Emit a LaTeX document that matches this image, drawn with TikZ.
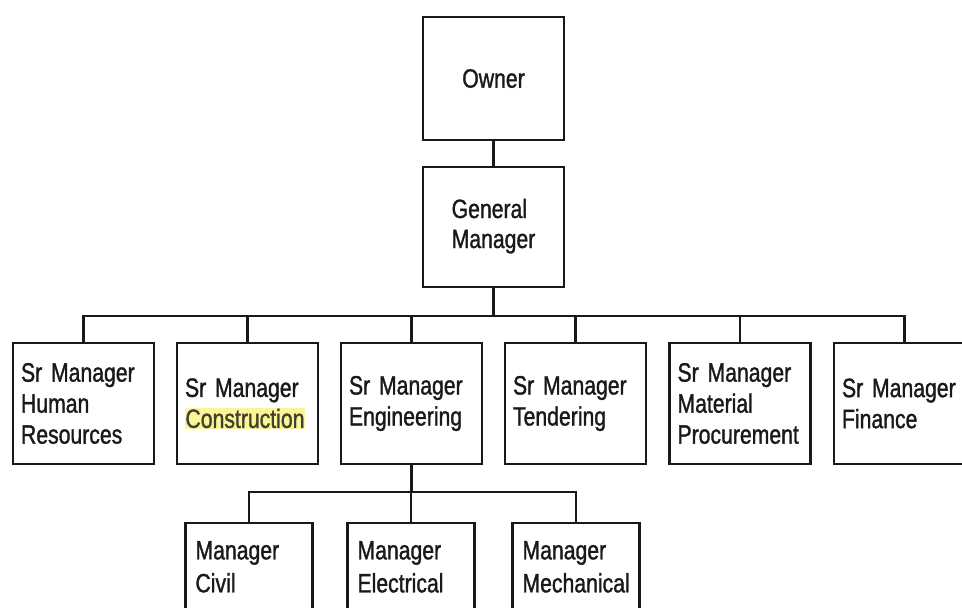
\documentclass[tikz,border=0pt]{standalone}
\usepackage{fontspec}
\setmainfont{Liberation Sans}[FakeStretch=0.8,FakeBold=1.2,WordSpace=0.65]
\definecolor{ink}{gray}{0.1}
\definecolor{hl}{RGB}{250,245,150}
\begin{document}
\begin{tikzpicture}[x=1pt,y=-1pt,
  box/.style={draw=ink,line width=2.2pt,rectangle,text=ink,
    font=\fontsize{26.5}{31}\selectfont,inner sep=0pt},
  topbox/.style={box,minimum width=141pt,minimum height=121pt,align=center},
  midbox/.style={box,minimum width=141pt,minimum height=121pt,text width=125pt,align=left},
  lowbox/.style={box,minimum width=127pt,anchor=north,text width=107pt,align=left,
    inner ysep=18pt,text depth=70pt,font=\fontsize{26.5}{33}\selectfont},
  conn/.style={draw=ink,line width=2.2pt}]
\useasboundingbox (0,0) rectangle (962,608);
\clip (0,0) rectangle (962,608);
\fill[white] (0,0) rectangle (962,608);

\node[topbox,minimum height=123pt] (owner) at (493.5,78.5) {Owner};
\node[topbox,minimum height=120pt,font=\fontsize{26.5}{30}\selectfont] (gm) at (493.5,227) {\begin{tabular}{@{}l@{}}General\\Manager\end{tabular}};

\node[midbox] (hr) at (83.5,403.5) {Sr Manager\\Human\\Resources};
\node[midbox] (con) at (247.5,403.5) {Sr Manager\\{\setlength\fboxsep{0.5pt}\colorbox{hl}{\textcolor{black!70!olive}{Construction}}}};
\node[midbox] (eng) at (411.5,403.5) {Sr Manager\\Engineering};
\node[midbox] (ten) at (575.5,403.5) {Sr Manager\\Tendering};
\node[midbox] (mat) at (740,403.5) {Sr Manager\\Material\\Procurement};
\node[midbox] (fin) at (904.5,403.5) {Sr Manager\\Finance};

\node[lowbox] (civ) at (249,522) {Manager\\Civil};
\node[lowbox] (ele) at (411,522) {Manager\\Electrical};
\node[lowbox] (mec) at (576,522) {Manager\\Mechanical};

\coordinate (bus) at (493.5,316);
\coordinate (bus2) at (411.5,492);

\draw[conn] (owner.south) -- (gm.north);
\draw[conn] (gm.south) -- (bus);
\draw[conn] (hr.north) -- (hr.north |- bus) -- (fin.north |- bus) -- (fin.north);
\foreach \n in {con,eng,ten,mat}
  \draw[conn] (\n.north) -- (\n.north |- bus);
\draw[conn] (eng.south) -- (bus2);
\draw[conn] (civ.north) -- (civ.north |- bus2) -- (mec.north |- bus2) -- (mec.north);
\draw[conn] (ele.north) -- (ele.north |- bus2);
\end{tikzpicture}
\end{document}
